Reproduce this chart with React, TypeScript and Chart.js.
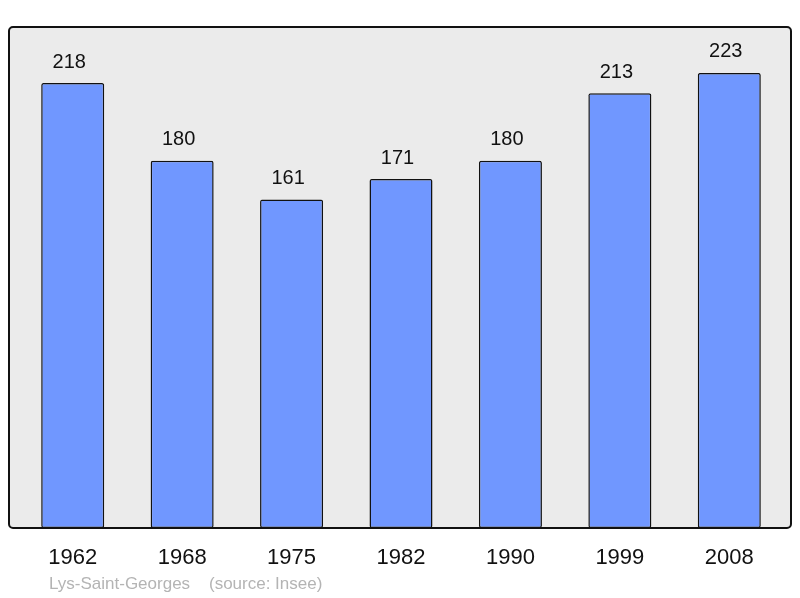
import React, { useEffect, useRef } from "react";
import { Chart, registerables } from "chart.js";

Chart.register(...registerables);

const years = ["1962", "1968", "1975", "1982", "1990", "1999", "2008"];
const population = [218, 180, 161, 171, 180, 213, 223];
const sourceLabel = "Lys-Saint-Georges    (source: Insee)";

const FONT = "'Liberation Sans', Arial, sans-serif";

const decorPlugin = {
  id: "decor",
  beforeDraw(chart: any) {
    const { ctx, chartArea } = chart;
    const l = chartArea.left - 9;
    const r = chartArea.right + 7;
    const t = chartArea.top;
    const b = chartArea.bottom;
    ctx.save();
    ctx.beginPath();
    ctx.roundRect(l, t, r - l, b - t, 4);
    ctx.fillStyle = "#ebebeb";
    ctx.fill();
    ctx.lineWidth = 2;
    ctx.strokeStyle = "#111";
    ctx.stroke();
    ctx.restore();
  },
  afterDatasetsDraw(chart: any) {
    const { ctx } = chart;
    const meta = chart.getDatasetMeta(0);
    ctx.save();
    ctx.font = `20px ${FONT}`;
    ctx.fillStyle = "#111";
    ctx.textAlign = "center";
    ctx.textBaseline = "middle";
    meta.data.forEach((bar: any, i: number) => {
      ctx.fillText(String(population[i]), bar.x - 3.5, bar.y - 21);
    });
    ctx.font = `17px ${FONT}`;
    ctx.fillStyle = "#b4b4b4";
    ctx.textAlign = "left";
    ctx.fillText(sourceLabel, 49, 584);
    ctx.restore();
  },
};

export default function App() {
  const ref = useRef<HTMLCanvasElement>(null);
  useEffect(() => {
    if (!ref.current) return;
    const chart = new Chart(ref.current, {
      type: "bar",
      data: {
        labels: years,
        datasets: [
          {
            data: population,
            backgroundColor: "#7097ff",
            borderColor: "#111",
            borderWidth: 1.5,
            borderRadius: 2,
            borderSkipped: false,
            categoryPercentage: 1,
            barPercentage: 0.576,
          },
        ],
      },
      options: {
        animation: false,
        responsive: false,
        maintainAspectRatio: false,
        layout: { padding: { left: 18, right: 16, top: 27, bottom: 9.6 } },
        plugins: { legend: { display: false }, tooltip: { enabled: false } },
        scales: {
          x: {
            grid: { display: false, drawTicks: false },
            border: { display: false },
            ticks: { color: "#111", font: { family: FONT, size: 22 }, padding: 17, maxRotation: 0 },
          },
          y: { display: false, min: 0, max: 245.5 },
        },
      },
      plugins: [decorPlugin],
    });
    return () => chart.destroy();
  }, []);
  return (
    <div style={{ position: "absolute", left: 0, top: 0, width: 800, height: 598, background: "#fff" }}>
      <canvas ref={ref} width={800} height={598} />
    </div>
  );
}
